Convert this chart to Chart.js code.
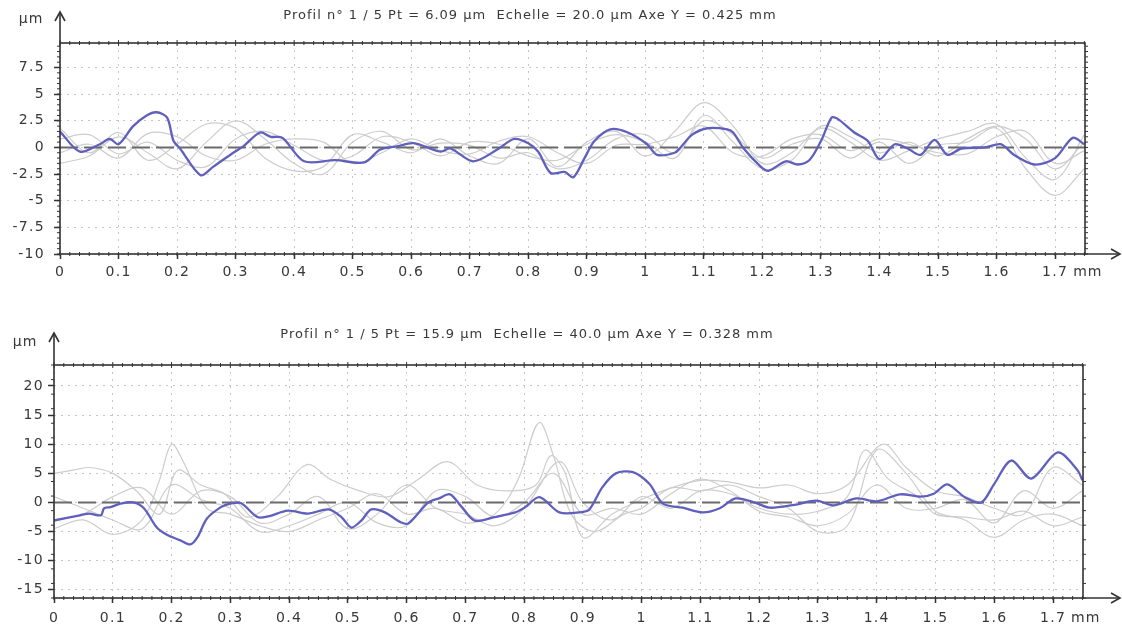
<!DOCTYPE html>
<html><head><meta charset="utf-8">
<script src="https://cdn.jsdelivr.net/npm/chart.js@4.4.1/dist/chart.umd.min.js"></script>
<style>
html,body{margin:0;padding:0;background:#fff;}
#wrap{position:relative;width:1122px;height:630px;overflow:hidden;background:#fff;}
canvas{position:absolute;left:0;}
</style></head><body>
<div id="wrap">
<canvas id="topChart" width="1122" height="300" style="top:0"></canvas>
<canvas id="botChart" width="1122" height="330" style="top:300px"></canvas>
</div>
<script>
// ---------- DATA ----------
const xTickValues = [0,0.1,0.2,0.3,0.4,0.5,0.6,0.7,0.8,0.9,1,1.1,1.2,1.3,1.4,1.5,1.6,1.7];
const topYTickValues = [-10,-7.5,-5,-2.5,0,2.5,5,7.5];
const botYTickValues = [-15,-10,-5,0,5,10,15,20];
const topTitle = 'Profil n° 1 / 5 Pt = 6.09 µm  Echelle = 20.0 µm Axe Y = 0.425 mm';
const botTitle = 'Profil n° 1 / 5 Pt = 15.9 µm  Echelle = 40.0 µm Axe Y = 0.328 mm';

const gridX05 = [0,0.05,0.1,0.15,0.2,0.25,0.3,0.35,0.4,0.45,0.5,0.55,0.6,0.65,0.7,0.75,0.8,0.85,0.9,0.95,1.0,1.05,1.1,1.15,1.2,1.25,1.3,1.35,1.4,1.45,1.5,1.55,1.6,1.65,1.7,1.75];

// top profile (blue)
const topBlueX = [0,0.034,0.068,0.085,0.10,0.125,0.148,0.165,0.183,0.194,0.205,0.24,0.262,0.296,0.313,0.342,0.36,0.38,0.417,0.47,0.52,0.547,0.576,0.604,0.65,0.667,0.706,0.747,0.776,0.80,0.817,0.838,0.862,0.877,0.896,0.913,0.94,0.97,1.003,1.02,1.05,1.06,1.08,1.106,1.14,1.15,1.168,1.197,1.21,1.24,1.26,1.28,1.30,1.318,1.328,1.357,1.38,1.40,1.426,1.448,1.47,1.494,1.516,1.54,1.58,1.607,1.63,1.665,1.70,1.73,1.75];
const topBlueY = [1.5,-0.4,0.3,0.8,0.3,2.0,3.0,3.3,2.8,0.6,-0.1,-2.6,-1.8,-0.5,0.1,1.4,1.0,0.9,-1.3,-1.2,-1.4,-0.2,0.1,0.4,-0.4,-0.1,-1.3,-0.2,0.8,0.4,-0.4,-2.4,-2.3,-2.8,-1.0,0.6,1.7,1.4,0.3,-0.7,-0.5,0,1.2,1.8,1.7,1.4,-0.1,-1.8,-2.2,-1.3,-1.6,-1.2,0.6,2.8,2.7,1.4,0.6,-1.1,0.3,-0.1,-0.7,0.7,-0.7,-0.1,0,0.3,-0.7,-1.6,-1.0,0.9,0.3];
// top other profiles (grey)
const topGrey1 = [1.8,-0.5,1.4,-1.2,0.3,2.2,1.8,-1.0,-2.2,-1.8,1.2,0.5,-0.5,0.8,-0.8,-1.5,0.8,-1.8,0.5,1.5,-0.8,1.5,4.2,2.0,-1.5,-0.5,1.8,0.5,-1.2,-0.3,0.8,1.5,2.2,-1.0,-3.0,1.2];
const topGrey2 = [-1.5,-0.8,1.0,-0.5,-2.0,0.5,2.5,0.8,-1.5,-2.5,0.5,1.5,-0.2,0.4,0.2,-1.0,-0.5,-2.0,-1.2,0.8,1.2,-0.5,2.5,1.2,-1.0,0.3,0.8,-1.0,0.5,-1.5,0.2,0.5,1.8,-2.0,-4.5,-2.0];
const topGrey3 = [0.8,1.2,-0.6,0.5,-1.2,-1.8,0.8,1.5,0.2,-1.2,-0.8,1.0,0.5,-0.8,0.5,0.3,-0.8,-1.2,0.3,1.2,0.5,-1.0,3.0,0.5,-2.0,-1.2,2.0,1.0,-0.5,0.5,-0.8,0.8,2.0,0.8,-2.0,0.5];
const topGrey4 = [-0.5,0.3,-1.0,1.3,1.0,-0.8,-1.2,0.3,0.8,0.5,-1.5,-0.5,0.8,-0.3,-0.6,0.6,1.0,-0.5,-1.5,0.2,0.3,1.0,2.0,-0.5,-0.8,0.8,1.2,-0.3,0.8,0.3,-0.5,-0.6,1.0,1.5,-1.5,-0.3];

// bottom profile (blue)
const botBlueX = [0,0.044,0.06,0.08,0.085,0.096,0.113,0.135,0.153,0.175,0.193,0.215,0.232,0.244,0.26,0.284,0.30,0.318,0.346,0.364,0.398,0.432,0.467,0.489,0.506,0.523,0.54,0.563,0.59,0.603,0.637,0.655,0.674,0.694,0.716,0.75,0.785,0.802,0.826,0.86,0.894,0.911,0.933,0.956,0.985,1.013,1.036,1.07,1.104,1.133,1.16,1.195,1.218,1.26,1.297,1.326,1.366,1.40,1.44,1.475,1.497,1.52,1.55,1.578,1.60,1.629,1.663,1.708,1.742,1.75];
const botBlueY = [-3.1,-2.2,-1.9,-2.2,-1.0,-0.8,-0.2,0,-1.0,-4.3,-5.6,-6.5,-7.2,-6.0,-2.8,-0.8,-0.2,-0.1,-2.5,-2.4,-1.4,-1.9,-1.2,-2.5,-4.3,-3.1,-1.2,-1.7,-3.4,-3.6,0,0.7,1.4,-0.8,-3.1,-2.5,-1.7,-0.8,0.9,-1.7,-1.7,-1.2,2.6,5.0,5.2,3.2,-0.2,-0.9,-1.7,-1.0,0.7,-0.1,-0.9,-0.4,0.3,-0.5,0.7,0.2,1.4,1.0,1.5,3.1,0.9,0,3.2,7.2,4.1,8.6,5.5,3.8];
// bottom other profiles (grey)
const botGrey1X = [0,0.05,0.1,0.15,0.18,0.2,0.22,0.26,0.3,0.35,0.4,0.45,0.5,0.55,0.6,0.65,0.7,0.75,0.79,0.825,0.85,0.88,0.92,0.97,1.0,1.05,1.1,1.15,1.2,1.25,1.3,1.35,1.4,1.45,1.5,1.55,1.6,1.65,1.7,1.75];
const botGrey1Y = [-4.5,-3.0,-5.5,-3.0,4.0,10.0,7.0,-1.0,-2.0,-4.0,-5.0,-3.0,-1.0,1.5,-2.0,-1.0,-3.5,-2.0,4.0,13.7,8.0,-2.0,-5.0,-2.0,-1.0,2.5,2.0,3.0,1.0,-1.0,-5.0,-4.0,9.0,5.0,-1.5,-3.0,-6.0,-3.0,-2.0,-4.0];
const botGrey2X = [0,0.03,0.06,0.1,0.14,0.18,0.21,0.25,0.29,0.33,0.38,0.43,0.47,0.52,0.57,0.62,0.67,0.72,0.77,0.82,0.845,0.87,0.9,0.95,1.0,1.05,1.1,1.15,1.2,1.25,1.3,1.35,1.41,1.45,1.5,1.55,1.6,1.65,1.7,1.75];
const botGrey2Y = [5.0,5.5,6.0,5.0,2.0,-2.0,5.5,3.0,1.5,-2.5,1.0,6.5,4.0,2.0,1.0,4.0,7.0,3.0,2.0,3.0,8.0,5.0,-6.0,-2.0,0.5,2.5,3.8,3.5,2.5,3.0,1.5,3.0,10.0,6.0,2.0,1.0,-1.0,-2.0,6.0,3.0];
const botGrey3X = [0,0.05,0.1,0.15,0.2,0.25,0.3,0.35,0.4,0.45,0.5,0.55,0.6,0.65,0.7,0.75,0.8,0.86,0.9,0.95,1.0,1.05,1.1,1.15,1.2,1.25,1.3,1.35,1.38,1.42,1.47,1.5,1.55,1.6,1.65,1.7,1.75];
const botGrey3Y = [-3.0,-2.0,1.0,2.5,-2.0,2.0,1.0,-3.5,-2.0,1.0,-4.5,-2.0,3.0,-1.0,-2.0,-4.0,-1.0,7.0,0.0,-3.0,1.0,-1.0,2.0,1.5,-1.0,-2.0,-1.5,1.0,9.0,4.0,1.0,-2.0,-2.5,-3.0,-1.5,-4.0,-2.5];
const botGrey4Y = [1.0,-1.0,-3.0,-4.5,3.0,0.5,-1.0,-5.0,-4.0,-2.0,0.0,-3.5,-4.0,2.0,1.0,-2.5,0.0,5.0,-2.0,-1.0,-2.0,1.5,4.0,2.0,-1.5,-2.5,-4.0,-2.0,3.0,-1.0,-1.0,0.5,-3.5,2.0,-1.0,2.0];

// ---------- RENDER ----------
const FONT = 'DejaVu Sans';
const TXT = '#383838';
const X_MAX = 1.751;
function pairs(xs, ys){ return xs.map((x,i)=>({x:x, y:ys[i]})); }

function buildChart(id, s){
  const datasets = [
    {data: pairs(s.blueX, s.blueY), borderColor:'#5f5fbe', borderWidth:2.3, order:0, tension:0.3},
    {data: [{x:0,y:0},{x:X_MAX,y:0}], borderColor:'#6a6a6a', borderWidth:2, borderDash:[18,6], order:1, tension:0},
  ];
  s.greys.forEach(g => datasets.push({data: pairs(g[0], g[1]), borderColor:'#cdcdcd', borderWidth:1.2, order:2, tension:0.35}));

  const deco = {
    id:'deco',
    beforeDraw(chart){ try{ chart.ctx.letterSpacing = '1.3px'; }catch(e){} },
    afterDraw(chart){
      const ctx = chart.ctx, a = chart.chartArea, xs = chart.scales.x, ys = chart.scales.y;
      ctx.save();
      ctx.strokeStyle = '#333'; ctx.lineWidth = 1.6; ctx.setLineDash([]);
      ctx.strokeRect(a.left, a.top, a.right - a.left, a.bottom - a.top);
      // y axis arrow
      ctx.beginPath(); ctx.moveTo(a.left, a.top); ctx.lineTo(a.left, s.arrowTip); ctx.stroke();
      ctx.beginPath(); ctx.moveTo(a.left - 5, s.arrowTip + 9); ctx.lineTo(a.left, s.arrowTip); ctx.lineTo(a.left + 5, s.arrowTip + 9); ctx.stroke();
      // x axis arrow
      ctx.beginPath(); ctx.moveTo(a.right, a.bottom); ctx.lineTo(s.arrowRight, a.bottom); ctx.stroke();
      ctx.beginPath(); ctx.moveTo(s.arrowRight - 9, a.bottom - 5); ctx.lineTo(s.arrowRight, a.bottom); ctx.lineTo(s.arrowRight - 9, a.bottom + 5); ctx.stroke();
      // minor ticks
      ctx.lineWidth = 1;
      const n = Math.floor(X_MAX / (0.1/6) + 1e-6);
      for (let i = 0; i <= n; i++){
        const px = xs.getPixelForValue(i * 0.1 / 6);
        const big = (i % 6 === 0) ? 3 : 2;
        ctx.beginPath(); ctx.moveTo(px, a.bottom - 2); ctx.lineTo(px, a.bottom + 2); ctx.stroke();
        ctx.beginPath(); ctx.moveTo(px, a.top - big); ctx.lineTo(px, a.top + big); ctx.stroke();
      }
      const m = Math.floor((s.yMax - s.yMin) / s.yMinor + 1e-6);
      for (let i = 0; i <= m; i++){
        const py = ys.getPixelForValue(s.yMin + i * s.yMinor);
        ctx.beginPath(); ctx.moveTo(a.left - 3, py); ctx.lineTo(a.left, py); ctx.stroke();
        ctx.beginPath(); ctx.moveTo(a.right, py); ctx.lineTo(a.right + 3, py); ctx.stroke();
      }
      // texts
      ctx.fillStyle = TXT;
      ctx.textBaseline = 'middle';
      try{ ctx.letterSpacing = '1px'; }catch(e){}
      ctx.font = '13px "' + FONT + '"';
      ctx.textAlign = 'center';
      ctx.fillText(s.title, s.titleX, s.titleY);
      ctx.font = '14px "' + FONT + '"';
      ctx.fillText('µm', s.unitX, s.unitY);
      ctx.textAlign = 'left';
      ctx.fillText('mm', xs.getPixelForValue(1.7) + 18, s.mmY);
      ctx.restore();
    }
  };

  return new Chart(document.getElementById(id), {
    type: 'line',
    data: {datasets: datasets},
    plugins: [deco],
    options: {
      responsive:false, animation:false, devicePixelRatio:1,
      layout:{padding:{top:s.padTop, right:s.padRight, left:0, bottom:0}},
      plugins:{legend:{display:false}, tooltip:{enabled:false}},
      elements:{point:{radius:0}},
      scales:{
        x:{type:'linear', min:0, max:X_MAX, position:'bottom',
           afterBuildTicks: sc => { sc.ticks = xTickValues.map(v => ({value:v})); },
           afterFit: sc => { sc.height = s.xAxisH; },
           ticks:{callback: v => String(Math.round(v*10)/10), font:{family:FONT, size:14}, color:TXT, padding:s.xPad, maxRotation:0, autoSkip:false},
           grid:{color:'#c6c6c6', lineWidth:1, tickLength:5, tickColor:'#333', tickWidth:1.5},
           border:{display:false, dash:[2,5]}
        },
        y:{type:'linear', min:s.yMin, max:s.yMax, position:'left',
           afterBuildTicks: sc => { sc.ticks = s.yTicks.map(v => ({value:v})); },
           afterFit: sc => { sc.width = s.yAxisW; },
           ticks:{callback: v => String(v), font:{family:FONT, size:14}, color:TXT, padding:s.yPad, autoSkip:false},
           grid:{color:'#c6c6c6', lineWidth:1, tickLength:6, tickColor:'#333', tickWidth:1.5},
           border:{display:false, dash:[2,5]}
        }
      }
    }
  });
}

buildChart('topChart', {
  blueX: topBlueX, blueY: topBlueY,
  greys: [[gridX05, topGrey1],[gridX05, topGrey2],[gridX05, topGrey3],[gridX05, topGrey4]],
  yMin:-10, yMax:9.8, yTicks: topYTickValues, yMinor:0.5,
  padTop:43, padRight:37, yAxisW:60, xAxisH:46, xPad:5, yPad:9,
  title: topTitle, titleX:530, titleY:16, unitX:31, unitY:19, mmY:272,
  arrowTip:12, arrowRight:1120
});
buildChart('botChart', {
  blueX: botBlueX, blueY: botBlueY,
  greys: [[botGrey1X, botGrey1Y],[botGrey2X, botGrey2Y],[botGrey3X, botGrey3Y],[gridX05, botGrey4Y]],
  yMin:-16.4, yMax:23.6, yTicks: botYTickValues, yMinor:2.5,
  padTop:65, padRight:39, yAxisW:54, xAxisH:32, xPad:7, yPad:4,
  title: botTitle, titleX:527, titleY:35, unitX:25, unitY:42, mmY:318,
  arrowTip:33, arrowRight:1120
});
</script>
</body></html>
